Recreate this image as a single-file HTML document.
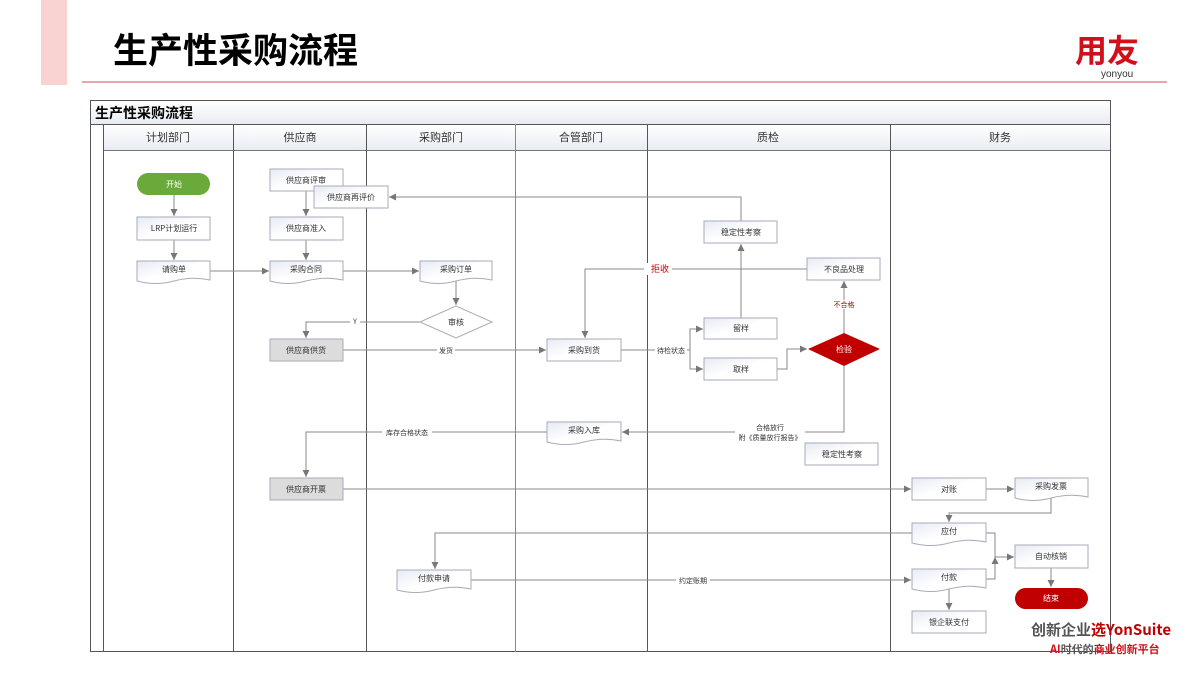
<!DOCTYPE html>
<html><head><meta charset="utf-8"><style>
body{margin:0;width:1200px;height:675px;background:#fff;overflow:hidden;font-family:"Liberation Sans","Noto Sans CJK SC",sans-serif}
</style></head><body>
<svg width="1200" height="675" viewBox="0 0 1200 675" xmlns="http://www.w3.org/2000/svg" font-family="Liberation Sans, Noto Sans CJK SC, sans-serif">
<defs>
<marker id="a" markerWidth="8" markerHeight="8" refX="7" refY="4" orient="auto" markerUnits="userSpaceOnUse"><path d="M0,0.5 L7,4 L0,7.5z" fill="#777"/></marker>
<linearGradient id="g" x1="0" y1="0" x2="1" y2="1"><stop offset="0" stop-color="#e6ebf3"/><stop offset="0.5" stop-color="#fff"/></linearGradient>
<linearGradient id="h" x1="0" y1="0" x2="0" y2="1"><stop offset="0" stop-color="#fff"/><stop offset="1" stop-color="#e8ecf2"/></linearGradient>
</defs>
<rect x="41" y="0" width="26" height="85" fill="#f9d2d2"/>
<text x="113" y="63" font-size="35" font-weight="bold" fill="#000" font-family="Noto Sans CJK SC, sans-serif">生产性采购流程</text>
<line x1="82" y1="82" x2="1167" y2="82" stroke="#e28a8a" stroke-width="1.5"/>
<text x="1075" y="62" font-size="32" font-weight="bold" fill="#d0101b" font-family="Noto Sans CJK SC, sans-serif">用友</text>
<text x="1101" y="77" font-size="10" fill="#333" font-family="Liberation Sans, sans-serif">yonyou</text>
<rect x="90.5" y="100.5" width="1020" height="551" fill="#fff" stroke="#555"/>
<rect x="91" y="101" width="1019" height="23" fill="url(#h)"/>
<line x1="90" y1="124.5" x2="1110" y2="124.5" stroke="#555"/>
<text x="95" y="118" font-size="14" font-weight="bold" font-family="Noto Sans CJK SC, sans-serif">生产性采购流程</text>
<rect x="103" y="125" width="1007" height="25" fill="url(#h)"/>
<line x1="103" y1="150.5" x2="1110" y2="150.5" stroke="#777"/>
<g stroke="#555" stroke-width="1">
<line x1="103.5" y1="124" x2="103.5" y2="652"/>
<line x1="233.5" y1="124" x2="233.5" y2="652"/>
<line x1="366.5" y1="124" x2="366.5" y2="652"/>
<line x1="515.5" y1="124" x2="515.5" y2="652" stroke="#888"/>
<line x1="647.5" y1="124" x2="647.5" y2="652"/>
<line x1="890.5" y1="124" x2="890.5" y2="652"/>
</g>
<g font-size="11" fill="#333" text-anchor="middle" font-family="Noto Sans CJK SC, sans-serif">
<text x="168" y="141">计划部门</text><text x="300" y="141">供应商</text><text x="441" y="141">采购部门</text><text x="581" y="141">合管部门</text><text x="768" y="141">质检</text><text x="1000" y="141">财务</text>
</g>
<g stroke="#888" stroke-width="1" fill="none" marker-end="url(#a)">
<path d="M174,195 V216"/><path d="M174,240 V260"/>
<path d="M210,271 H269"/>
<path d="M306,191 V216"/><path d="M306,240 V260"/>
<path d="M343,271 H419"/>
<path d="M456,281 V305"/>
<path d="M420,322 H306 V338"/>
<path d="M343,350 H546"/>
<path d="M621,350 H690 V329 H703"/>
<path d="M690,350 V369 H703"/>
<path d="M777,369 H787 V349 H807"/>
<path d="M741,318 V244"/>
<path d="M844,333 V281"/>
<path d="M807,269 H585 V338"/>
<path d="M844,366 V432 H622"/>
<path d="M547,432 H306 V477"/>
<path d="M343,489 H911"/>
<path d="M986,489 H1014"/>
<path d="M1051,498 V513 H949 V522"/>
<path d="M912,533 H435 V569"/>
<path d="M471,580 H911"/>
<path d="M986,533 H995 V557 H1014"/>
<path d="M986,579 H995 V557"/>
<path d="M1051,568 V587"/>
<path d="M949,589 V610"/>
<path d="M647,197 H389"/>
</g>
<path d="M647,197 H741 V221" stroke="#888" fill="none"/>
<g font-size="7" fill="#333" text-anchor="middle" font-family="Noto Sans CJK SC, sans-serif">
<rect x="350" y="317" width="10" height="9" fill="#fff"/><text x="355" y="324">Y</text>
<rect x="437" y="346" width="18" height="9" fill="#fff"/><text x="446" y="353">发货</text>
<rect x="655" y="346" width="32" height="9" fill="#fff"/><text x="671" y="353">待检状态</text>
<rect x="644" y="263" width="28" height="12" fill="#fff"/><text x="660" y="272" font-size="9" fill="#c00000">拒收</text>
<rect x="828" y="300" width="32" height="9" fill="#fff"/><text x="844" y="307" fill="#a00">不合格</text>
<rect x="735" y="423" width="70" height="20" fill="#fff"/><text x="770" y="430">合格放行</text><text x="770" y="440">附《质量放行报告》</text>
<rect x="382" y="428" width="50" height="9" fill="#fff"/><text x="407" y="435">库存合格状态</text>
<rect x="676" y="576" width="34" height="9" fill="#fff"/><text x="693" y="583">约定账期</text>
</g>
<g stroke="#aab" stroke-width="1" fill="url(#g)">
<rect x="137" y="217" width="73" height="23"/>
<rect x="270" y="169" width="73" height="22"/>
<rect x="314" y="186" width="74" height="22"/>
<rect x="270" y="217" width="73" height="23"/>
<rect x="270" y="339" width="73" height="22" fill="#dcdcdc"/>
<rect x="547" y="339" width="74" height="22"/>
<rect x="704" y="221" width="73" height="22"/>
<rect x="807" y="258" width="73" height="22"/>
<rect x="704" y="318" width="73" height="21"/>
<rect x="704" y="358" width="73" height="22"/>
<rect x="805" y="443" width="73" height="22"/>
<rect x="270" y="478" width="73" height="22" fill="#dcdcdc"/>
<rect x="912" y="478" width="74" height="22"/>
<rect x="1015" y="545" width="73" height="23"/>
<rect x="912" y="611" width="74" height="22"/>
<path d="M137,261 H210 V280 Q192,276 174,281 Q156,286 137,281 Z"/>
<path d="M270,261 H343 V280 Q325,276 306,281 Q288,286 270,281 Z"/>
<path d="M420,261 H492 V280 Q474,276 456,281 Q438,286 420,281 Z"/>
<path d="M547,422 H621 V441 Q603,437 584,442 Q566,447 547,442 Z"/>
<path d="M1015,478 H1088 V497 Q1070,493 1051,498 Q1033,503 1015,498 Z"/>
<path d="M912,523 H986 V542 Q968,538 949,543 Q931,548 912,543 Z"/>
<path d="M912,569 H986 V588 Q968,584 949,589 Q931,594 912,589 Z"/>
<path d="M397,570 H471 V589 Q453,585 434,590 Q416,595 397,590 Z"/>
<path d="M420,322 L456,306 L492,322 L456,338 Z" fill="#fff"/>
</g>
<rect x="137" y="173" width="73" height="22" rx="11" fill="#6aaa3a"/>
<path d="M808,349 L844,333 L880,349 L844,366 Z" fill="#c00000"/>
<rect x="1015" y="588" width="73" height="21" rx="10.5" fill="#c00000"/>
<g font-size="8" fill="#333" text-anchor="middle" font-family="Noto Sans CJK SC, sans-serif">
<text x="174" y="187" fill="#fff">开始</text>
<text x="174" y="231">LRP计划运行</text>
<text x="174" y="272">请购单</text>
<text x="306" y="183">供应商评审</text>
<text x="351" y="200">供应商再评价</text>
<text x="306" y="231">供应商准入</text>
<text x="306" y="272">采购合同</text>
<text x="456" y="272">采购订单</text>
<text x="456" y="325">审核</text>
<text x="306" y="353">供应商供货</text>
<text x="584" y="353">采购到货</text>
<text x="741" y="235">稳定性考察</text>
<text x="844" y="272">不良品处理</text>
<text x="741" y="331">留样</text>
<text x="741" y="372">取样</text>
<text x="844" y="352" fill="#fff">检验</text>
<text x="584" y="433">采购入库</text>
<text x="842" y="457">稳定性考察</text>
<text x="306" y="492">供应商开票</text>
<text x="949" y="492">对账</text>
<text x="1051" y="489">采购发票</text>
<text x="949" y="534">应付</text>
<text x="1051" y="559">自动核销</text>
<text x="949" y="580">付款</text>
<text x="1051" y="601" fill="#fff">结束</text>
<text x="949" y="625">银企联支付</text>
<text x="434" y="581">付款申请</text>
</g>
<text x="1031" y="635" font-size="15" font-weight="bold" fill="#555" font-family="Noto Sans CJK SC, sans-serif">创新企业<tspan fill="#c00000">选YonSuite</tspan></text>
<text x="1050" y="653" font-size="11" font-weight="bold" fill="#555" font-family="Noto Sans CJK SC, sans-serif"><tspan fill="#d0101b">AI</tspan>时代的<tspan fill="#d0101b">商业创新平台</tspan></text>
</svg>
</body></html>
